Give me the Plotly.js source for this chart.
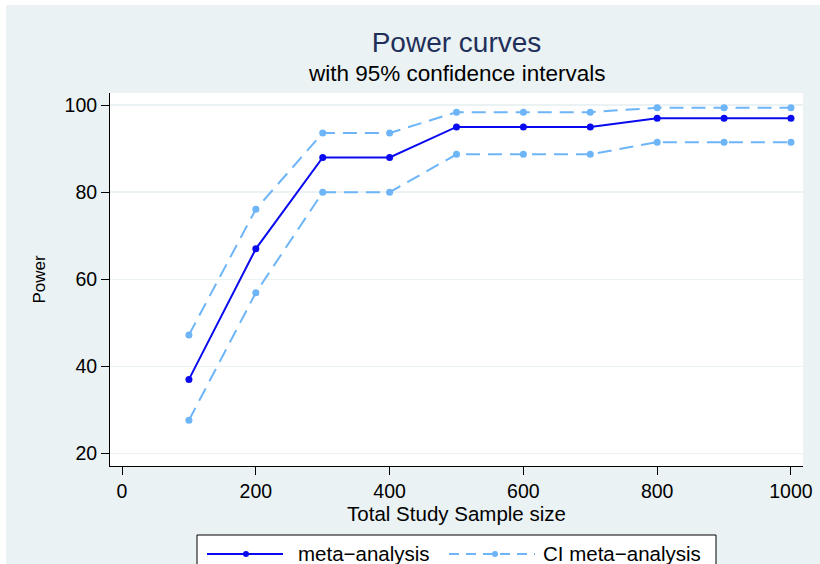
<!DOCTYPE html>
<html>
<head>
<meta charset="utf-8">
<script src="https://cdn.plot.ly/plotly-3.0.1.min.js"></script>
<style>html,body{margin:0;padding:0;background:#fff;}#chart{width:820px;height:564px;}</style>
</head>
<body>
<div id="chart"></div>
<script>
// Data
var sampleSize = [100, 200, 300, 400, 500, 600, 700, 800, 900, 1000];
var power      = [37, 67, 88, 88, 95, 95, 95, 97, 97, 97];
var ciLower    = [27.6, 56.9, 80.0, 80.0, 88.7, 88.7, 88.7, 91.5, 91.5, 91.5];
var ciUpper    = [47.2, 76.1, 93.6, 93.6, 98.4, 98.4, 98.4, 99.4, 99.4, 99.4];
var xTicks     = [0, 200, 400, 600, 800, 1000];
var yTicks     = [20, 40, 60, 80, 100];
var seriesNames = ['meta\u2212analysis', 'CI meta\u2212analysis'];

var mainColor = '#0a0af0';
var ciColor = '#6db5f7';
var bgColor = '#eaf2f3';
var dashPat = '14px,8px';
var FONT = 'Liberation Sans, Arial, Helvetica, sans-serif';

var traces = [
  {x: sampleSize, y: ciUpper, type: 'scatter', mode: 'lines+markers', name: seriesNames[1],
   line: {color: ciColor, width: 2, dash: dashPat}, marker: {color: ciColor, size: 7}, showlegend: false},
  {x: sampleSize, y: ciLower, type: 'scatter', mode: 'lines+markers', name: seriesNames[1],
   line: {color: ciColor, width: 2, dash: dashPat}, marker: {color: ciColor, size: 7}, showlegend: false},
  {x: sampleSize, y: power, type: 'scatter', mode: 'lines+markers', name: seriesNames[0],
   line: {color: mainColor, width: 2}, marker: {color: mainColor, size: 7}, showlegend: false}
];

// plot area in px: left 110, right 803, top 93, bottom 466
function px(xp){ return (xp - 110) / 693; }
function py(yp){ return (466 - yp) / 373; }

var legY = py(554);
var shapes = [
  {type: 'rect', xref: 'paper', yref: 'paper', x0: px(6), x1: px(830), y0: py(580), y1: py(5),
   fillcolor: bgColor, line: {width: 0}, layer: 'below'},
  {type: 'rect', xref: 'paper', yref: 'paper', x0: 0, x1: 1, y0: 0, y1: 1,
   fillcolor: '#ffffff', line: {width: 0}, layer: 'below'},
  // legend box
  {type: 'rect', xref: 'paper', yref: 'paper', x0: px(197), x1: px(716), y0: py(580), y1: py(535),
   fillcolor: '#ffffff', line: {color: '#000000', width: 1}},
  {type: 'line', xref: 'paper', yref: 'paper', x0: px(207), x1: px(283), y0: legY, y1: legY,
   line: {color: mainColor, width: 2}},
  {type: 'circle', xref: 'paper', yref: 'paper', xsizemode: 'pixel', ysizemode: 'pixel',
   xanchor: px(246), yanchor: legY, x0: -3, x1: 3, y0: -3, y1: 3,
   fillcolor: mainColor, line: {width: 0}},
  {type: 'line', xref: 'paper', yref: 'paper', x0: px(449), x1: px(535), y0: legY, y1: legY,
   line: {color: ciColor, width: 2, dash: '10px,7px'}},
  {type: 'circle', xref: 'paper', yref: 'paper', xsizemode: 'pixel', ysizemode: 'pixel',
   xanchor: px(495), yanchor: legY, x0: -3, x1: 3, y0: -3, y1: 3,
   fillcolor: ciColor, line: {width: 0}}
];

var annotations = [
  {text: 'with 95% confidence intervals', xref: 'paper', yref: 'paper', x: 0.5, y: py(74),
   xanchor: 'center', yanchor: 'middle', showarrow: false, font: {family: FONT, size: 22.5, color: '#000000'}},
  {text: seriesNames[0], xref: 'paper', yref: 'paper', x: px(296), y: py(553),
   xanchor: 'left', yanchor: 'middle', showarrow: false, font: {family: FONT, size: 20.5, color: '#000000'}},
  {text: seriesNames[1], xref: 'paper', yref: 'paper', x: px(541), y: py(553),
   xanchor: 'left', yanchor: 'middle', showarrow: false, font: {family: FONT, size: 20.5, color: '#000000'}}
];

var layout = {
  width: 820, height: 564,
  margin: {l: 110, r: 17, t: 93, b: 98, pad: 0},
  paper_bgcolor: '#ffffff',
  plot_bgcolor: 'rgba(0,0,0,0)',
  font: {family: FONT, color: '#000000'},
  title: {text: 'Power curves', xref: 'paper', x: 0.5, xanchor: 'center',
          yref: 'container', y: 1 - 42/564, yanchor: 'middle',
          font: {family: FONT, size: 28, color: '#1f2f5a'}},
  xaxis: {range: [-18, 1018], tickvals: xTicks, ticktext: xTicks.map(String),
          showgrid: false, zeroline: false, showline: true, linecolor: '#000000', linewidth: 1,
          ticks: 'outside', ticklen: 8, tickcolor: '#000000', tickwidth: 1,
          tickfont: {family: FONT, size: 19.5, color: '#000000'},
          title: {text: 'Total Study Sample size', standoff: 1, font: {family: FONT, size: 20.5, color: '#000000'}}},
  yaxis: {range: [17.1, 102.8], tickvals: yTicks, ticktext: yTicks.map(String),
          showgrid: true, gridcolor: bgColor, gridwidth: 1.5, zeroline: false,
          showline: true, linecolor: '#000000', linewidth: 1,
          ticks: 'outside', ticklen: 8, tickcolor: '#000000', tickwidth: 1,
          tickfont: {family: FONT, size: 19.5, color: '#000000'},
          title: {text: 'Power', standoff: 14, font: {family: FONT, size: 17, color: '#000000'}}},
  shapes: shapes,
  annotations: annotations,
  showlegend: false
};

Plotly.newPlot('chart', traces, layout, {displayModeBar: false, staticPlot: true});
</script>
</body>
</html>
